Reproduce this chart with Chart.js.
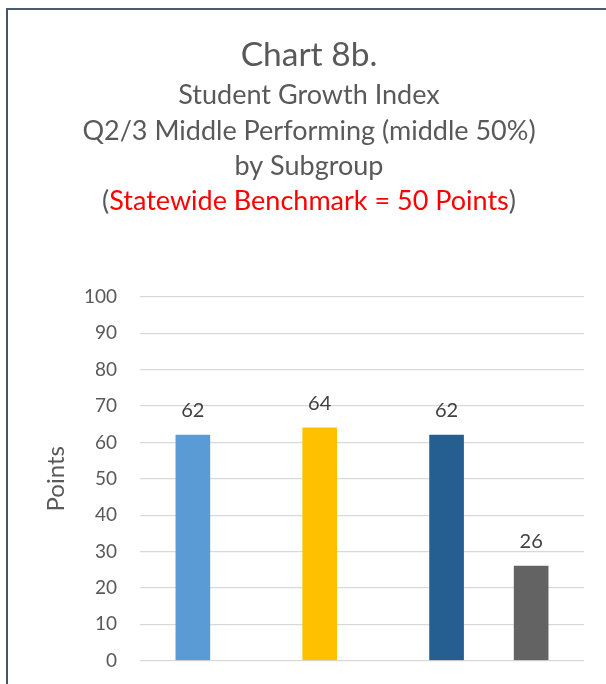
<!DOCTYPE html>
<html>
<head>
<meta charset="utf-8">
<script src="https://cdn.jsdelivr.net/npm/chart.js@4.4.1/dist/chart.umd.min.js"></script>
<style>
  html, body { margin: 0; padding: 0; background: #ffffff; overflow: hidden; }
  #wrap { position: relative; width: 606px; height: 684px; overflow: hidden; }
  #frame { position: absolute; left: 6px; top: 8px; width: 700px; height: 800px;
           border-left: 2px solid #44546A; border-top: 2px solid #4B5B70; box-sizing: border-box; }
  canvas { position: absolute; left: 0; top: 0; }
</style>
</head>
<body>
<div id="wrap">
  <div id="frame"></div>
  <canvas id="c" width="606" height="695"></canvas>
</div>
<script>
// ---- data ----
const titleLines = ["Chart 8b.", "Student Growth Index", "Q2/3 Middle Performing (middle 50%)", "by Subgroup"];
const benchmarkText = "Statewide Benchmark = 50 Points";
const yAxisTitle = "Points";
const values = [62, 64, 62, 26];
const barColors = ["#5B9BD5", "#FFC000", "#255E91", "#636363"];
const slotCount = 21;          // category slots across the plot
const barSlots = [2, 8, 14, 18]; // slot index of each bar
const yTicks = [0, 10, 20, 30, 40, 50, 60, 70, 80, 90, 100];

// build category data from the arrays
const labels = Array.from({length: slotCount}, (_, i) => String(i));
const data = new Array(slotCount).fill(null);
const colors = new Array(slotCount).fill("#000000");
barSlots.forEach((s, i) => { data[s] = values[i]; colors[s] = barColors[i]; });

const FONT = "Lato";

const titlePlugin = {
  id: "titleText",
  afterDraw(chart) {
    const ctx = chart.ctx;
    const cx = 309;
    ctx.save();
    ctx.fillStyle = "#595959";
    ctx.textAlign = "center";
    ctx.textBaseline = "alphabetic";
    ctx.font = `33.5px ${FONT}`;
    ctx.fillText(titleLines[0], cx, 66);
    ctx.font = `27px ${FONT}`;
    const ys = [104, 140, 175];
    for (let i = 1; i < titleLines.length; i++) ctx.fillText(titleLines[i], cx, ys[i - 1]);
    const y5 = 210;
    const wOpen = ctx.measureText("(").width;
    const wMid = ctx.measureText(benchmarkText).width;
    const wClose = ctx.measureText(")").width;
    let x = cx - (wOpen + wMid + wClose) / 2;
    ctx.textAlign = "left";
    ctx.fillStyle = "#595959"; ctx.fillText("(", x, y5); x += wOpen;
    ctx.fillStyle = "#FF0000"; ctx.fillText(benchmarkText, x, y5); x += wMid;
    ctx.fillStyle = "#595959"; ctx.fillText(")", x, y5);
    ctx.restore();
  }
};

const valueLabels = {
  id: "valueLabels",
  afterDatasetsDraw(chart) {
    const ctx = chart.ctx;
    const meta = chart.getDatasetMeta(0);
    ctx.save();
    ctx.fillStyle = "#404040";
    ctx.font = `20px ${FONT}`;
    ctx.textAlign = "center";
    ctx.textBaseline = "alphabetic";
    meta.data.forEach((el, i) => {
      const v = chart.data.datasets[0].data[i];
      if (v === null || v === undefined) return;
      ctx.fillText(String(v), el.x, el.y - 18);
    });
    ctx.restore();
  }
};

new Chart(document.getElementById("c"), {
  type: "bar",
  data: {
    labels: labels,
    datasets: [{
      data: data,
      backgroundColor: colors,
      barThickness: 34,
      borderWidth: 0
    }]
  },
  options: {
    responsive: false,
    animation: false,
    devicePixelRatio: 1,
    layout: { padding: { left: 0, right: 22, top: 297, bottom: 12 } },
    plugins: { legend: { display: false }, tooltip: { enabled: false }, title: { display: false } },
    scales: {
      x: { display: false },
      y: {
        min: 0, max: 100,
        afterBuildTicks(scale) { scale.ticks = yTicks.map(v => ({ value: v })); },
        afterFit(scale) { scale.width = 140; },
        border: { display: false },
        grid: { color: "#D9D9D9", lineWidth: 1.3, drawTicks: false },
        ticks: { color: "#595959", font: { family: FONT, size: 19 }, padding: 23 },
        title: { display: true, text: yAxisTitle, color: "#595959",
                 font: { family: FONT, size: 24 }, padding: { top: 42, bottom: 0 } }
      }
    }
  },
  plugins: [titlePlugin, valueLabels]
});
</script>
</body>
</html>
